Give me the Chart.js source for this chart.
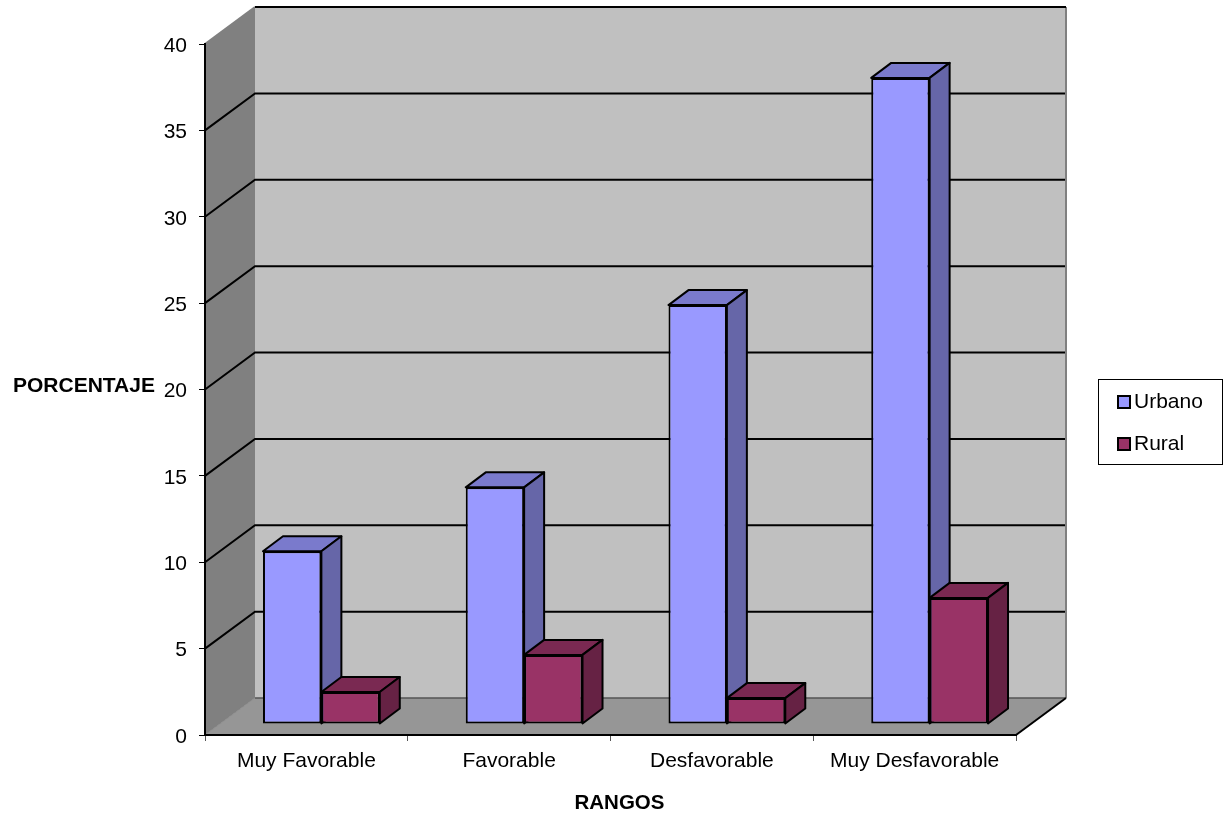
<!DOCTYPE html>
<html>
<head>
<meta charset="utf-8">
<title>Rangos</title>
<style>
  html, body { margin: 0; padding: 0; background: #fff; }
  canvas { display: block; }
</style>
<script src="https://cdn.jsdelivr.net/npm/chart.js@4/dist/chart.umd.min.js"></script>
</head>
<body>
<canvas id="chartRangos" width="1225" height="819"></canvas>
<script>
var categories = ['Muy Favorable', 'Favorable', 'Desfavorable', 'Muy Desfavorable'];
var urbano = [10, 13.7, 24.25, 37.4];
var rural = [1.85, 4, 1.5, 7.3];

var font = 'Arial, "Liberation Sans", sans-serif';

// depth of the floor and walls, and of each bar
var wallDx = 50, wallDy = 37;
var barShiftX = 15, barShiftY = 11;
var barDx = 20, barDy = 15;

function poly(ctx, pts, fill, stroke, width) {
    ctx.beginPath();
    ctx.moveTo(pts[0][0], pts[0][1]);
    for (var i = 1; i < pts.length; i++) {
        ctx.lineTo(pts[i][0], pts[i][1]);
    }
    ctx.closePath();
    if (fill) {
        ctx.fillStyle = fill;
        ctx.fill();
    }
    if (stroke) {
        ctx.strokeStyle = stroke;
        ctx.lineWidth = width;
        ctx.stroke();
    }
}

function line(ctx, pts, color, width) {
    ctx.beginPath();
    ctx.moveTo(pts[0][0], pts[0][1]);
    for (var i = 1; i < pts.length; i++) {
        ctx.lineTo(pts[i][0], pts[i][1]);
    }
    ctx.strokeStyle = color;
    ctx.lineWidth = width;
    ctx.stroke();
}

// walls, floor and grid lines behind the bars
var wallsPlugin = {
    id: 'walls',
    beforeDraw: function (chart) {
        var ctx = chart.ctx;
        var a = chart.chartArea;
        var y = chart.scales.y;
        ctx.save();
        ctx.fillStyle = '#ffffff';
        ctx.fillRect(0, 0, chart.width, chart.height);

        var backLeft = a.left + wallDx;
        var backRight = a.right + wallDx;
        var backTop = a.top - wallDy;
        var backBottom = a.bottom - wallDy;

        poly(ctx, [[backLeft, backTop], [backRight, backTop], [backRight, backBottom], [backLeft, backBottom]], '#c0c0c0');
        poly(ctx, [[a.left, a.top], [backLeft, backTop], [backLeft, backBottom], [a.left, a.bottom]], '#808080');
        poly(ctx, [[a.left, a.bottom], [backLeft, backBottom], [backRight, backBottom], [a.right, a.bottom]], '#969696');

        line(ctx, [[backRight, backTop], [backRight, backBottom]], '#808080', 2);
        line(ctx, [[a.left, a.top], [backLeft, backTop]], '#808080', 2);
        line(ctx, [[a.left, a.bottom], [backLeft, backBottom]], '#8c8c8c', 1);
        line(ctx, [[backLeft, backBottom], [backRight, backBottom]], '#555555', 1.5);
        line(ctx, [[backRight, backBottom], [a.right, a.bottom]], '#000000', 2);

        y.ticks.forEach(function (t) {
            if (t.value === y.min) return;
            var py = y.getPixelForValue(t.value);
            if (t.value === y.max) {
                line(ctx, [[backLeft, py - wallDy], [backRight, py - wallDy]], '#000000', 2);
                return;
            }
            line(ctx, [[a.left, py], [backLeft, py - wallDy], [backRight - 1, py - wallDy]], '#000000', 2);
        });
        ctx.restore();
    }
};

// top and side faces of every bar, then shift the fronts onto the floor
var depthPlugin = {
    id: 'depth',
    beforeDatasetsDraw: function (chart) {
        var ctx = chart.ctx;
        ctx.save();
        ctx.translate(barShiftX, -barShiftY);
        chart.data.datasets.forEach(function (ds, d) {
            chart.getDatasetMeta(d).data.forEach(function (bar) {
                var l = bar.x - bar.width / 2;
                var r = bar.x + bar.width / 2;
                var t = bar.y;
                var b = bar.base;
                ctx.lineJoin = 'round';
                poly(ctx, [[l, t], [l + barDx, t - barDy], [r + barDx, t - barDy], [r, t]], ds.topColor, '#000000', 2);
                poly(ctx, [[r, t], [r + barDx, t - barDy], [r + barDx, b - barDy], [r, b]], ds.sideColor, '#000000', 2);
            });
        });
    },
    afterDatasetsDraw: function (chart) {
        chart.ctx.restore();
    }
};

// axis titles sit level and off-centre; legend box on the right
var labelsPlugin = {
    id: 'labels',
    afterDraw: function (chart) {
        var ctx = chart.ctx;
        var y = chart.scales.y;
        var a = chart.chartArea;
        ctx.save();
        ctx.font = 'bold 21px ' + font;
        ctx.fillStyle = '#000000';
        ctx.textAlign = 'left';
        ctx.textBaseline = 'middle';
        ctx.fillText('PORCENTAJE', 13, y.getPixelForValue(20) - 3);
        ctx.font = 'bold 20.5px ' + font;
        ctx.textAlign = 'center';
        ctx.fillText('RANGOS', (a.left + a.right) / 2 + 9, 803);
        ctx.restore();

        ctx.save();
        ctx.strokeStyle = '#000000';
        ctx.lineWidth = 1;
        ctx.fillStyle = '#ffffff';
        ctx.fillRect(1098.5, 379.5, 124, 85);
        ctx.strokeRect(1098.5, 379.5, 124, 85);
        ctx.font = '21px ' + font;
        ctx.textAlign = 'left';
        ctx.textBaseline = 'middle';
        chart.data.datasets.forEach(function (ds, d) {
            var cy = 402 + d * 42;
            ctx.fillStyle = ds.backgroundColor;
            ctx.strokeStyle = '#000000';
            ctx.lineWidth = 2;
            ctx.fillRect(1118, cy - 6, 12, 12);
            ctx.strokeRect(1118, cy - 6, 12, 12);
            ctx.fillStyle = '#000000';
            ctx.fillText(ds.label, 1134, cy);
        });
        ctx.restore();
    }
};

var ctx = document.getElementById('chartRangos').getContext('2d');
var myChart = new Chart(ctx, {
    type: 'bar',
    data: {
        labels: categories,
        datasets: [{
            label: 'Urbano',
            data: urbano,
            backgroundColor: '#9999ff',
            borderColor: '#000000',
            borderWidth: 2,
            borderSkipped: false,
            topColor: '#7a7acc',
            sideColor: '#6666a8',
            clip: false
        }, {
            label: 'Rural',
            data: rural,
            backgroundColor: '#993366',
            borderColor: '#000000',
            borderWidth: 2,
            borderSkipped: false,
            topColor: '#7a2952',
            sideColor: '#662244',
            clip: false
        }]
    },
    plugins: [wallsPlugin, depthPlugin, labelsPlugin],
    options: {
        responsive: false,
        animation: false,
        layout: {
            padding: { top: 44, right: 209, left: 0, bottom: 0 }
        },
        categoryPercentage: 0.576,
        barPercentage: 1,
        scales: {
            x: {
                afterFit: function (scale) { scale.height = 84; },
                border: { color: '#000000', width: 2 },
                grid: { drawOnChartArea: false, drawTicks: true, tickLength: 6, color: '#555555', lineWidth: 1 },
                ticks: { color: '#000000', font: { family: font, size: 21 }, padding: 8, maxRotation: 0 }
            },
            y: {
                min: 0,
                max: 40,
                afterFit: function (scale) { scale.width = 205; },
                border: { color: '#000000', width: 2 },
                grid: { drawOnChartArea: false, drawTicks: true, tickLength: 6, color: '#000000', lineWidth: 1 },
                ticks: { stepSize: 5, color: '#000000', font: { family: font, size: 21 }, padding: 12, labelOffset: 2 }
            }
        },
        plugins: {
            legend: { display: false },
            tooltip: { enabled: false }
        }
    }
});
</script>
</body>
</html>
